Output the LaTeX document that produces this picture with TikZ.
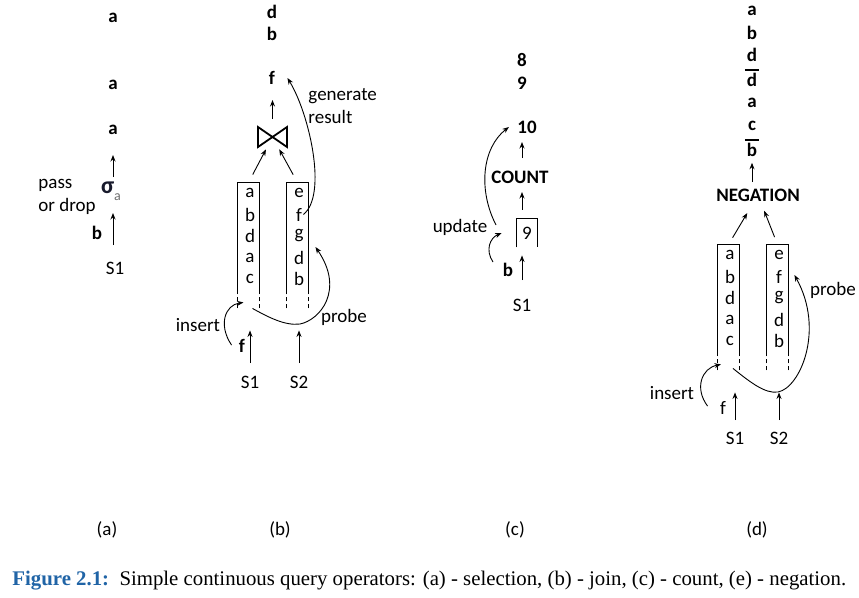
\documentclass[tikz,border=0pt]{standalone}
\usepackage{fontspec}
\setmainfont{Carlito}
\newfontfamily\capfont{Liberation Serif}
\usepackage{xcolor}
\usetikzlibrary{arrows.meta}
\definecolor{capblue}{RGB}{32,100,166}
\definecolor{sigblue}{RGB}{24,26,44}
\definecolor{subgray}{RGB}{110,110,110}
\newcommand{\negitem}[1]{\vbox{\hrule height 1.6pt\kern1.6pt\hbox{\kern2pt#1\kern2pt}}}

\begin{document}
\begin{tikzpicture}[
  x=1pt, y=-1pt,
  >={Stealth[length=6.5pt,width=5pt]},
  line width=0.9pt,
  every node/.style={font=\fontsize{19}{22.5}\selectfont, inner sep=1pt},
  tup/.style={font=\fontsize{19}{22.5}\selectfont\bfseries},
  queue/.style={minimum width=21pt, minimum height=125pt, inner sep=0pt},
  tail/.style={dash pattern=on 4pt off 3pt}
]
\useasboundingbox (0,0) rectangle (859,597);

% (a) selection
\node[tup] (ao1) at (113,18) {a};
\node[tup] (ao2) at (113,85) {a};
\node[tup] (ao3) at (113,130) {a};
\node (sig) at (111,191) {\fontsize{24}{24}\selectfont\bfseries\textcolor{sigblue}{σ}\raisebox{-0.6ex}{\fontsize{14}{14}\selectfont\mdseries\textcolor{subgray}{a}}};
\node[align=left, anchor=west] (pass) at (37,197) {pass\\or drop};
\node[tup] (ain) at (97,233) {b};
\node (as1) at (115,268) {S1};
\node (alab) at (107,530) {(a)};

\draw[->, shorten <=23pt, shorten >=22pt] (ao3 |- as1) -- (ao3 |- sig);
\draw[->, shorten <=14pt, shorten >=25pt] (ao3 |- sig) -- (ao3.center);

% (b) join
\node[tup] (bo1) at (272,12) {d};
\node[tup] (bo2) at (272,34) {b};
\node[tup] (bo3) at (272,78) {f};
\coordinate (join) at (272.5,137);
\draw[line width=1.8pt, line join=miter] (join) ++(-14.5,-10) -- ++(29,20) -- ++(0,-20) -- ++(-29,20) -- cycle;
\node[queue] (bq1) at (248.5,245.5) {};
\node[queue] (bq2) at (297.5,245.5) {};
\foreach \t [count=\i] in {a,b,d,a,c} \node (bl\i) at (250,171.5+21.5*\i) {\t};
\foreach \t [count=\i] in {e,f,g,d,b} \node (br\i) at (299,171.5+21.5*\i) {\t};
\node[align=left, anchor=west] (bgen) at (307,106) {generate\\result};
\node (bins) at (198,325) {insert};
\node[tup] (bin) at (242,346) {f};
\node (bprobe) at (344,317) {probe};
\node (bs1) at (250,382) {S1};
\node (bs2) at (299,382) {S2};
\node (blab) at (280,530) {(b)};

% (c) count
\node[tup] (co1) at (522,60) {8};
\node[tup] (co2) at (522,83) {9};
\node[tup] (co3) at (527,127) {10};
\node[tup] (cnt) at (520,177) {COUNT};
\node[minimum width=20pt, minimum height=28pt, inner sep=0pt] (cst) at (527,233) {9};
\draw (cst.south west) |- (cst.north east) -- (cst.south east);
\node (cup) at (460,227) {update};
\node[tup] (cin) at (508,270) {b};
\node (cs1) at (522,305) {S1};
\node (clab) at (515,530) {(c)};

% (d) negation
\node[tup, anchor=base] (do1) at (752,16) {a};
\node[tup, anchor=base] (do2) at (752,39) {b};
\node[tup, anchor=base] (do3) at (752,61) {d};
\node[tup, anchor=base] (do4) at (752,86) {\negitem{d}};
\node[tup, anchor=base] (do5) at (752,107) {a};
\node[tup, anchor=base] (do6) at (752,130) {c};
\node[tup, anchor=base] (do7) at (752,156) {\negitem{b}};
\node[tup] (dneg) at (758,195) {NEGATION};
\node[queue] (dq1) at (728.5,307.5) {};
\node[queue] (dq2) at (777.5,307.5) {};
\foreach \t [count=\i] in {a,b,d,a,c} \node (dl\i) at (730,233.5+21.5*\i) {\t};
\foreach \t [count=\i] in {e,f,g,d,b} \node (dr\i) at (779,233.5+21.5*\i) {\t};
\node (dins) at (672,393) {insert};
\node (din) at (723,408) {f};
\node (dprobe) at (833,290) {probe};
\node (ds1) at (735,438) {S1};
\node (ds2) at (779,438) {S2};
\node (dlab) at (757,530) {(d)};

% queues
\foreach \q in {bq1,bq2,dq1,dq2} {
  \draw (\q.south west) ++(0,-16) |- (\q.north east) -- ([yshift=16pt]\q.south east);
  \draw[tail] (\q.south west) -- ++(0,-16) (\q.south east) -- ++(0,-16);
}

% arrows
\draw[->, shorten <=9pt, shorten >=14pt] (bq1.north) -- (join);
\draw[->, shorten <=9pt, shorten >=14pt] (bq2.north) -- (join);
\draw[->, shorten <=18pt, shorten >=22pt] (join) -- (join |- bo3);
\draw[->] (br2.east) .. controls (328,195) and (309,113) .. ([xshift=11pt]bo3.east);
\draw[->] ([xshift=10pt,yshift=-12pt]bins.south east) .. controls (218,325) and (225,305) .. ([xshift=-5pt,yshift=6pt]bq1.south);
\draw[->] ([xshift=4pt]bq1.south) .. controls (268,317) and (285,326) .. (300,324) .. controls (320,320) and (345,290) .. ([xshift=7pt,yshift=-1.5pt]bq2.east);
\draw[->, shorten <=19pt, shorten >=22pt] (bs1.center) -- (bs1 |- bq1.south);
\draw[->, shorten <=19pt, shorten >=22pt] (bs2.center) -- (bs2 |- bq2.south);

\draw[->, shorten <=25pt, shorten >=8pt] (cs1.center) -- (cs1 |- cst.south);
\draw[->, shorten <=9pt, shorten >=15pt] (cs1 |- cst.north) -- (cs1 |- cnt);
\draw[->, shorten <=19pt, shorten >=15pt] (cs1 |- cnt) -- (cs1 |- co3);
\draw[->] ([xshift=-15pt,yshift=8pt]cin.center) .. controls (485,250) and (490,238) .. ([xshift=-15pt]cst.west);
\draw[->] ([xshift=36pt,yshift=2pt]cup.center) .. controls (478,190) and (482,148) .. ([xshift=-7pt]co3.west);

\draw[->, shorten <=13pt, shorten >=15pt] (do7 |- dneg) -- (do7.center);
\draw[->, shorten <=8pt, shorten >=21pt] (dq1.north) -- (dneg.center);
\draw[->, shorten <=8pt, shorten >=17pt] (dq2.north) -- (dneg.center);
\draw[->] ([xshift=12pt,yshift=-5pt]dins.south east) .. controls (694,388) and (702,368) .. ([xshift=-7.5pt,yshift=6pt]dq1.south);
\draw[->] ([xshift=4.5pt,yshift=2pt]dq1.south) .. controls (750,382) and (765,394) .. (778,392) .. controls (800,388) and (825,330) .. ([xshift=6pt,yshift=32.5pt]dq2.east);
\draw[->, shorten <=18pt, shorten >=22pt] (ds1.center) -- (ds1 |- dq1.south);
\draw[->, shorten <=18pt, shorten >=22pt] (ds2.center) -- (ds2 |- dq2.south);

% caption
\node[anchor=west, font=\capfont\fontsize{20.8}{24}\selectfont] (cap) at (11,581) {\textcolor{capblue}{\textbf{Figure 2.1:}}\hspace{0.5em}Simple continuous query operators: (a) - selection, (b) - join, (c) - count, (e) - negation.};
\end{tikzpicture}
\end{document}
